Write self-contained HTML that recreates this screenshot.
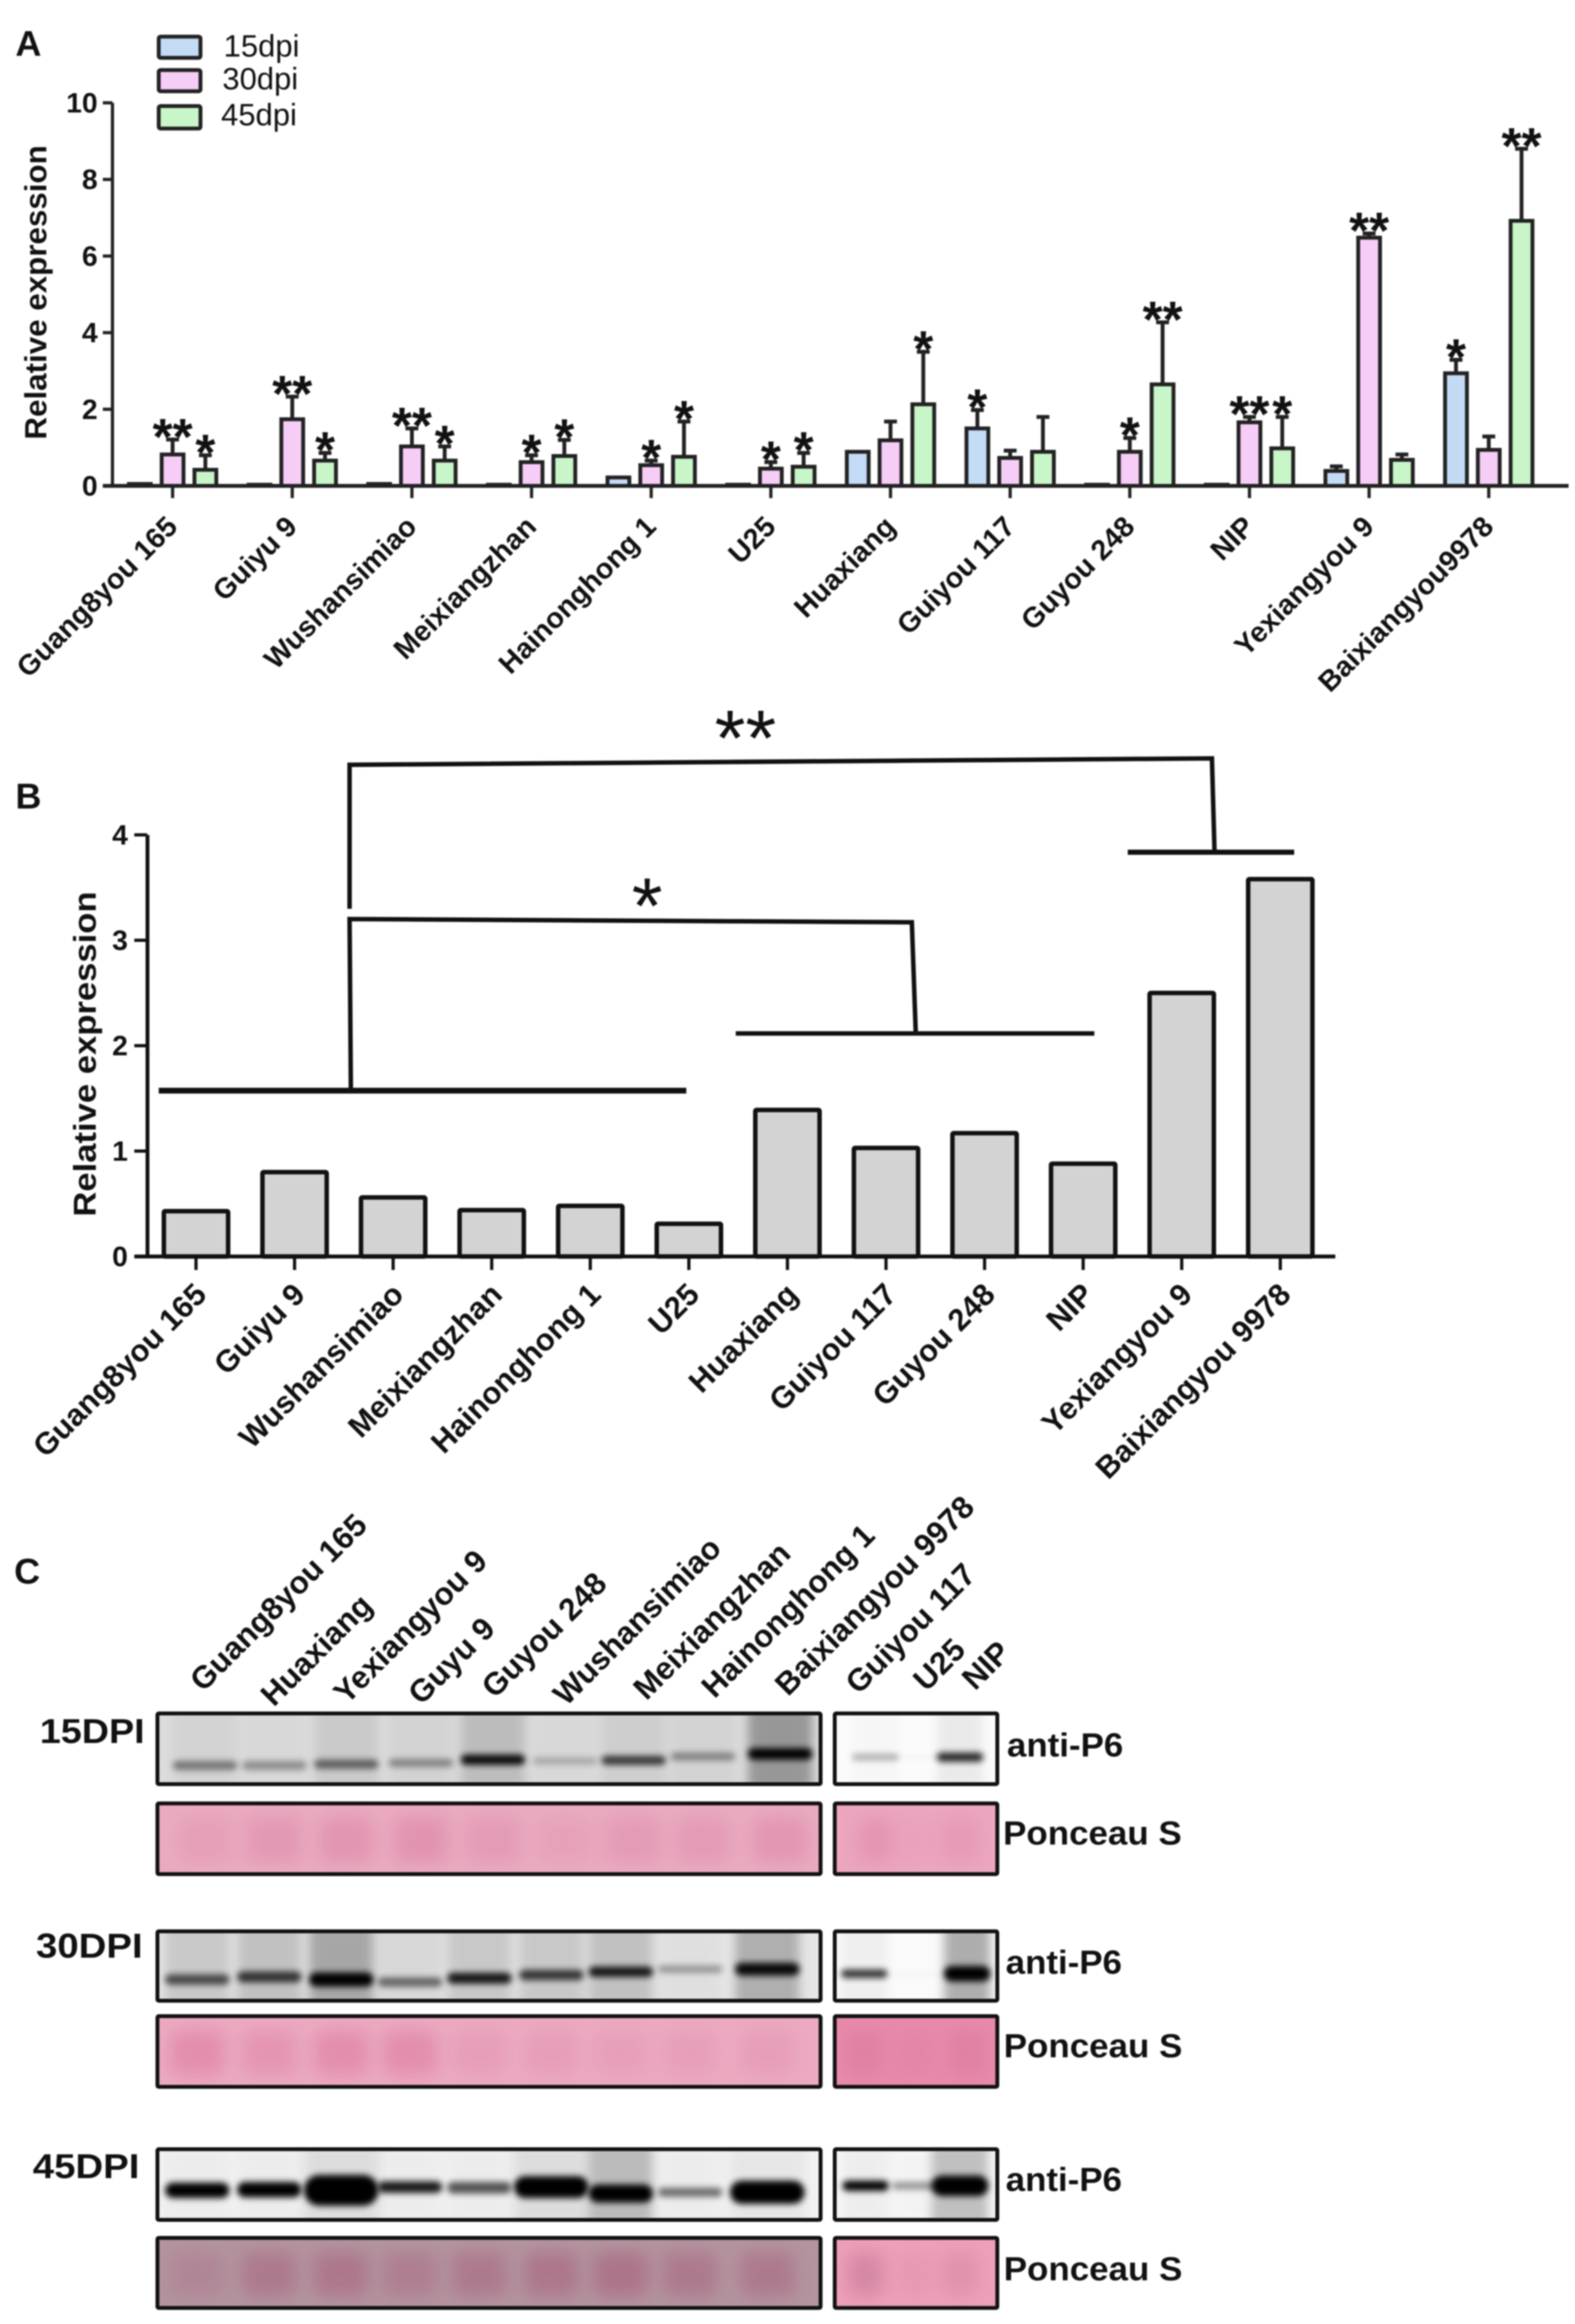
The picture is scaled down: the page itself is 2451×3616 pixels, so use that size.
<!DOCTYPE html>
<html lang="en">
<head>
<meta charset="utf-8">
<title>Relative expression and western blot figure</title>
<style>
html,body{margin:0;padding:0;background:#fff;width:2451px;height:3616px;overflow:hidden}
#figure{display:block;filter:blur(1.1px)}
text{font-family:"Liberation Sans",sans-serif;fill:#111}
</style>
</head>
<body>
<svg id="figure" xmlns="http://www.w3.org/2000/svg" width="2451" height="3616" viewBox="0 0 2451 3616">
<defs>
<filter id="blurBand" x="-40%" y="-150%" width="180%" height="400%"><feGaussianBlur stdDeviation="5"/></filter>
<filter id="blurSmear" x="-30%" y="-30%" width="160%" height="160%"><feGaussianBlur stdDeviation="8"/></filter>
<filter id="blurStain" x="-40%" y="-80%" width="180%" height="260%"><feGaussianBlur stdDeviation="13"/></filter>
</defs>
<rect width="2451" height="3616" fill="#fff"/>

<text x="24" y="87" font-size="56" font-weight="700">A</text>
<text x="24" y="1258" font-size="56" font-weight="700">B</text>
<text x="22" y="2464" font-size="56" font-weight="700">C</text>

<g id="chartA"></g>
<g id="chartB"></g>

<g fill="none" stroke="#111" stroke-width="7">
<path d="M544 1414 L544 1190 L1886 1180 L1890 1324"/>
<path d="M1755 1326 H2014" stroke-width="8"/>
<path d="M546 1693 L544 1430 L1419 1435 L1425 1605"/>
<path d="M1145 1608 H1703"/>
<path d="M247 1697 H1068" stroke-width="9"/>
</g>
<text x="1160" y="1191" font-size="123" text-anchor="middle">**</text>
<text x="1007" y="1452" font-size="123" text-anchor="middle">*</text>

<g id="blots"></g>

<g font-size="49" font-weight="700" text-anchor="end">
<text transform="translate(574 2376) rotate(-45)">Guang8you 165</text>
<text transform="translate(582 2501) rotate(-45)">Huaxiang</text>
<text transform="translate(761 2432) rotate(-45)">Yexiangyou 9</text>
<text transform="translate(773 2537) rotate(-45)">Guyu 9</text>
<text transform="translate(947 2467) rotate(-45)">Guyou 248</text>
<text transform="translate(1125 2412) rotate(-45)">Wushansimiao</text>
<text transform="translate(1233 2420) rotate(-45)">Meixiangzhan</text>
<text transform="translate(1364 2392) rotate(-45)">Hainonghong 1</text>
<text transform="translate(1519 2348) rotate(-45)">Baixiangyou 9978</text>
<text transform="translate(1521 2453) rotate(-45)">Guiyou 117</text>
<text transform="translate(1505 2570) rotate(-45)">U25</text>
<text transform="translate(1575 2574) rotate(-45)">NIP</text>
</g>

<g font-size="54" font-weight="700">
<text x="62" y="2712" textLength="163" lengthAdjust="spacingAndGlyphs">15DPI</text>
<text x="56" y="3046" textLength="166" lengthAdjust="spacingAndGlyphs">30DPI</text>
<text x="51" y="3389" textLength="166" lengthAdjust="spacingAndGlyphs">45DPI</text>
</g>
<g font-size="52" font-weight="700">
<text x="1567" y="2733" textLength="181" lengthAdjust="spacingAndGlyphs">anti-P6</text>
<text x="1561" y="2870" textLength="278" lengthAdjust="spacingAndGlyphs">Ponceau S</text>
<text x="1565" y="3071" textLength="181" lengthAdjust="spacingAndGlyphs">anti-P6</text>
<text x="1562" y="3201" textLength="278" lengthAdjust="spacingAndGlyphs">Ponceau S</text>
<text x="1565" y="3409" textLength="181" lengthAdjust="spacingAndGlyphs">anti-P6</text>
<text x="1562" y="3548" textLength="278" lengthAdjust="spacingAndGlyphs">Ponceau S</text>
</g>
</svg>

<script>
const categoriesA = ["Guang8you 165","Guiyu 9","Wushansimiao","Meixiangzhan","Hainonghong 1","U25","Huaxiang","Guiyou 117","Guyou 248","NIP","Yexiangyou 9","Baixiangyou9978"];
const values15 = [0.05,0.03,0.05,0.03,0.22,0.03,0.89,1.5,0.03,0.03,0.39,2.94];
const values30 = [0.82,1.74,1.03,0.62,0.54,0.45,1.19,0.73,0.89,1.66,6.48,0.94];
const values45 = [0.42,0.66,0.66,0.78,0.76,0.5,2.13,0.89,2.65,0.98,0.68,6.92];
const errors15 = [0,0,0,0,0,0,0,0.48,0,0,0.12,0.35];
const errors30 = [0.39,0.59,0.47,0.18,0.12,0.17,0.49,0.19,0.36,0.14,0.11,0.35];
const errors45 = [0.38,0.2,0.37,0.42,0.92,0.36,1.37,0.91,1.62,0.82,0.14,1.88];
const stars15 = ["","","","","","","","*","","","","*"];
const stars30 = ["**","**","**","*","*","*","","","*","**","**",""];
const stars45 = ["*","*","*","*","*","*","*","","**","*","","**"];
const ticksA = [0,2,4,6,8,10];
const seriesNames = ["15dpi","30dpi","45dpi"];

const categoriesB = ["Guang8you 165","Guiyu 9","Wushansimiao","Meixiangzhan","Hainonghong 1","U25","Huaxiang","Guiyou 117","Guyou 248","NIP","Yexiangyou 9","Baixiangyou 9978"];
const valuesB = [0.43,0.80,0.56,0.44,0.48,0.31,1.39,1.03,1.17,0.88,2.50,3.58];
const ticksB = [0,1,2,3,4];

const NS = "http://www.w3.org/2000/svg";
function el(tag, attrs, parent){
  const n = document.createElementNS(NS, tag);
  for (const k in attrs) n.setAttribute(k, attrs[k]);
  parent.appendChild(n);
  return n;
}

/* ---------- Chart A ---------- */
const fillsA = ["#c4dbf6","#f6cdf6","#c9f6c9"];
const xA = (i, s) => 268.6 + 186.2 * i + (s - 1) * 51;
const yA = v => 756 - v * 59.6;
const gA = document.getElementById("chartA");
const seriesValues = [values15, values30, values45];
const seriesErrors = [errors15, errors30, errors45];
const seriesStars = [stars15, stars30, stars45];

seriesValues.forEach((vals, s) => {
  vals.forEach((v, i) => {
    const x = xA(i, s);
    const top = yA(v + seriesErrors[s][i]);
    if (seriesErrors[s][i] > 0) {
      const eb = el("path", {d:`M${x} ${yA(v)} V${top} M${x-10} ${top} H${x+10}`, stroke:"#222", "stroke-width":6, fill:"none"}, gA);
      
      
    }
    const bar = el("rect", {x:x-17, y:yA(v), width:34, height:756-yA(v), fill:fillsA[s], stroke:"#222", "stroke-width":6}, gA);
    
    
    if (seriesStars[s][i]) {
      const st = el("text", {x:x, y:top-23+46, "font-size":80, "font-weight":700, "text-anchor":"middle"}, gA);
      st.textContent = seriesStars[s][i];
      
      
    }
  });
});
const axisYA = el("path", {d:`M175 ${yA(10)} V756`, stroke:"#222", "stroke-width":5, fill:"none"}, gA);


const axisXA = el("path", {d:"M160 756 H2441", stroke:"#222", "stroke-width":6, fill:"none"}, gA);


ticksA.forEach(t => {
  const tk = el("path", {d:`M160 ${yA(t)} H175`, stroke:"#222", "stroke-width":5}, gA);
  
  
  const lb = el("text", {x:152, y:yA(t)+15, "font-size":44, "font-weight":700, "text-anchor":"end"}, gA);
  lb.textContent = t;
  
  
});
categoriesA.forEach((c, i) => {
  const x = xA(i, 1);
  const tk = el("path", {d:`M${x} 756 V775`, stroke:"#222", "stroke-width":5}, gA);
  
  
  const lb = el("text", {transform:`translate(${x+10} 822) rotate(-45)`, "font-size":44.5, "font-weight":700, "text-anchor":"end"}, gA);
  lb.textContent = c;
  
  
});
const titleA = el("text", {transform:"translate(72 684) rotate(-90)", "font-size":47, "font-weight":700, textLength:458, lengthAdjust:"spacingAndGlyphs"}, gA);
titleA.textContent = "Relative expression";



const legendBoxY = [57,109,165];
const legendBoxH = [33,33,35];
const legendTextX = [348,346,344];
const legendTextY = [88,139,195];
seriesNames.forEach((n, s) => {
  const b = el("rect", {x:247, y:legendBoxY[s], width:65, height:legendBoxH[s], rx:3, fill:fillsA[s], stroke:"#222", "stroke-width":6}, gA);
  
  
  const t = el("text", {x:legendTextX[s], y:legendTextY[s], "font-size":48, textLength:118, lengthAdjust:"spacingAndGlyphs"}, gA);
  t.textContent = n;
  
  
});

/* ---------- Chart B ---------- */
const xB = i => 305 + 153.4 * i;
const yB = v => 1955 - v * 164;
const gB = document.getElementById("chartB");
valuesB.forEach((v, i) => {
  const bar = el("rect", {x:xB(i)-50, y:yB(v), width:100, height:1955-yB(v), rx:2, fill:"#d3d3d3", stroke:"#111", "stroke-width":7}, gB);
  
  
});
const axisYB = el("path", {d:`M229.5 ${yB(4)} V1955`, stroke:"#111", "stroke-width":6, fill:"none"}, gB);


const axisXB = el("path", {d:"M209 1955 H2078", stroke:"#111", "stroke-width":6, fill:"none"}, gB);


ticksB.forEach(t => {
  const tk = el("path", {d:`M209 ${yB(t)} H229`, stroke:"#111", "stroke-width":5}, gB);
  
  
  const lb = el("text", {x:199, y:yB(t)+15, "font-size":44, "font-weight":700, "text-anchor":"end"}, gB);
  lb.textContent = t;
  
  
});
categoriesB.forEach((c, i) => {
  const x = xB(i);
  const tk = el("path", {d:`M${x} 1955 V1976`, stroke:"#111", "stroke-width":5}, gB);
  
  
  const lb = el("text", {transform:`translate(${x+19} 2017) rotate(-45)`, "font-size":48, "font-weight":700, "text-anchor":"end"}, gB);
  lb.textContent = c;
  
  
});
const titleB = el("text", {transform:"translate(149 1893) rotate(-90)", "font-size":49, "font-weight":700, textLength:506, lengthAdjust:"spacingAndGlyphs"}, gB);
titleB.textContent = "Relative expression";



/* ---------- Panel C: blots ---------- */
const gC = document.getElementById("blots");
const panelX = [245, 1299];
const panelW = [1032, 253];
const centersLeft15 = [319,427,539,655,767,879,986,1094,1214];
const centersLeft = [307,419,531,638,746,858,966,1074,1194];
const centersRight15 = [1362,1424,1494];
const centersRight30 = [1345,1424,1505];
const centersRight45 = [1347,1424,1494];

const westernRows = [
 {y:2666,h:110,name:"blot-15dpi",bg:["#dcdcdc","#fbfbfb"],
  lanes:[centersLeft15,centersRight15],
  bandY:[[2747,2747,2745,2743,2738,2740,2739,2733,2729],[2734,2734,2734]],
  dark:[[.45,.35,.55,.4,.95,.25,.75,.4,1],[.3,.03,.85]],
  bandH:[[14,14,14,12,16,10,14,12,18],[10,8,14]],
  smear:[[.05,.02,.1,.05,.18,.02,.08,.05,.4],[.02,0,.08]]},
 {y:3005,h:108,name:"blot-30dpi",bg:["#e6e6e6","#fafafa"],
  lanes:[centersLeft,centersRight30],
  bandY:[[3080,3076,3080,3084,3078,3073,3068,3064,3064],[3071,3071,3071]],
  dark:[[.65,.75,1,.55,.9,.75,.9,.35,.95],[.8,.03,1]],
  bandH:[[16,17,22,14,17,16,16,11,20],[13,6,24]],
  smear:[[.16,.2,.35,.08,.16,.16,.2,.03,.3],[.05,0,.38]]},
 {y:3344,h:110,name:"blot-45dpi",bg:["#f1f1f1","#f8f8f8"],
  lanes:[centersLeft,centersRight45],
  bandY:[[3408,3407,3408,3403,3404,3403,3413,3411,3411],[3401,3401,3401]],
  dark:[[1,1,1,.9,.65,1,1,.55,1],[1,.38,1]],
  bandH:[[24,24,48,18,18,34,28,14,36],[16,12,32]],
  smear:[[.02,.02,.1,.02,.02,.1,.28,.02,.05],[.05,.02,.28]]}
];
const stainRows = [
 {y:2806,h:110,name:"ponceau-15dpi",bg:["#e9aac0","#eca6bf"],tint:"#df8aa9",
  lanes:[centersLeft15,centersRight15],dark:[[.3,.55,.65,.7,.45,.25,.45,.45,.6],[.6,.15,.45]]},
 {y:3137,h:110,name:"ponceau-30dpi",bg:["#ebaac1","#e78aab"],tint:"#dd7b9f",
  lanes:[centersLeft,centersRight30],dark:[[.6,.45,.6,.6,.25,.25,.22,.22,.25],[.7,.35,.7]]},
 {y:3482,h:109,name:"ponceau-45dpi",bg:["#b3949f","#ee9fba"],tint:"#a85f7d",
  lanes:[centersLeft,centersRight45],dark:[[.25,.5,.55,.4,.5,.55,.6,.5,.5],[.35,.1,.2]]}
];

function makeClip(x, y, w, h, name){
  const s = el("svg", {x:x, y:y, width:w, height:h, viewBox:`${x} ${y} ${w} ${h}`}, gC);
  
  
  return s;
}
function frame(x, y, w, h){
  const f = el("rect", {x:x, y:y, width:w, height:h, rx:2, fill:"none", stroke:"#111", "stroke-width":6}, gC);
  
  
}
westernRows.forEach(r => {
  [0,1].forEach(p => {
    const s = makeClip(panelX[p], r.y, panelW[p], r.h, r.name + (p ? "-right" : "-left"));
    el("rect", {x:panelX[p], y:r.y, width:panelW[p], height:r.h, fill:r.bg[p]}, s);
    r.lanes[p].forEach((cx, i) => {
      const lw = (r.bandH[p][i] > 30 ? 116 : 100) - (p ? 28 : 0);
      if (r.smear[p][i] > 0) {
        el("rect", {x:cx-lw/2, y:r.y-10, width:lw, height:r.h+20, fill:"#333", opacity:r.smear[p][i], filter:"url(#blurSmear)"}, s);
      }
      el("rect", {x:cx-lw/2, y:r.bandY[p][i]-r.bandH[p][i]/2, width:lw, height:r.bandH[p][i], rx:r.bandH[p][i]/2, fill:"#000", opacity:r.dark[p][i], filter:"url(#blurBand)"}, s);
    });
    frame(panelX[p], r.y, panelW[p], r.h);
  });
});
stainRows.forEach(r => {
  [0,1].forEach(p => {
    const s = makeClip(panelX[p], r.y, panelW[p], r.h, r.name + (p ? "-right" : "-left"));
    el("rect", {x:panelX[p], y:r.y, width:panelW[p], height:r.h, fill:r.bg[p]}, s);
    r.lanes[p].forEach((cx, i) => {
      const lw = p ? 56 : 84;
      el("rect", {x:cx-lw/2, y:r.y+22, width:lw, height:r.h-40, rx:14, fill:r.tint, opacity:r.dark[p][i], filter:"url(#blurStain)"}, s);
    });
    frame(panelX[p], r.y, panelW[p], r.h);
  });
});
</script>
</body>
</html>
